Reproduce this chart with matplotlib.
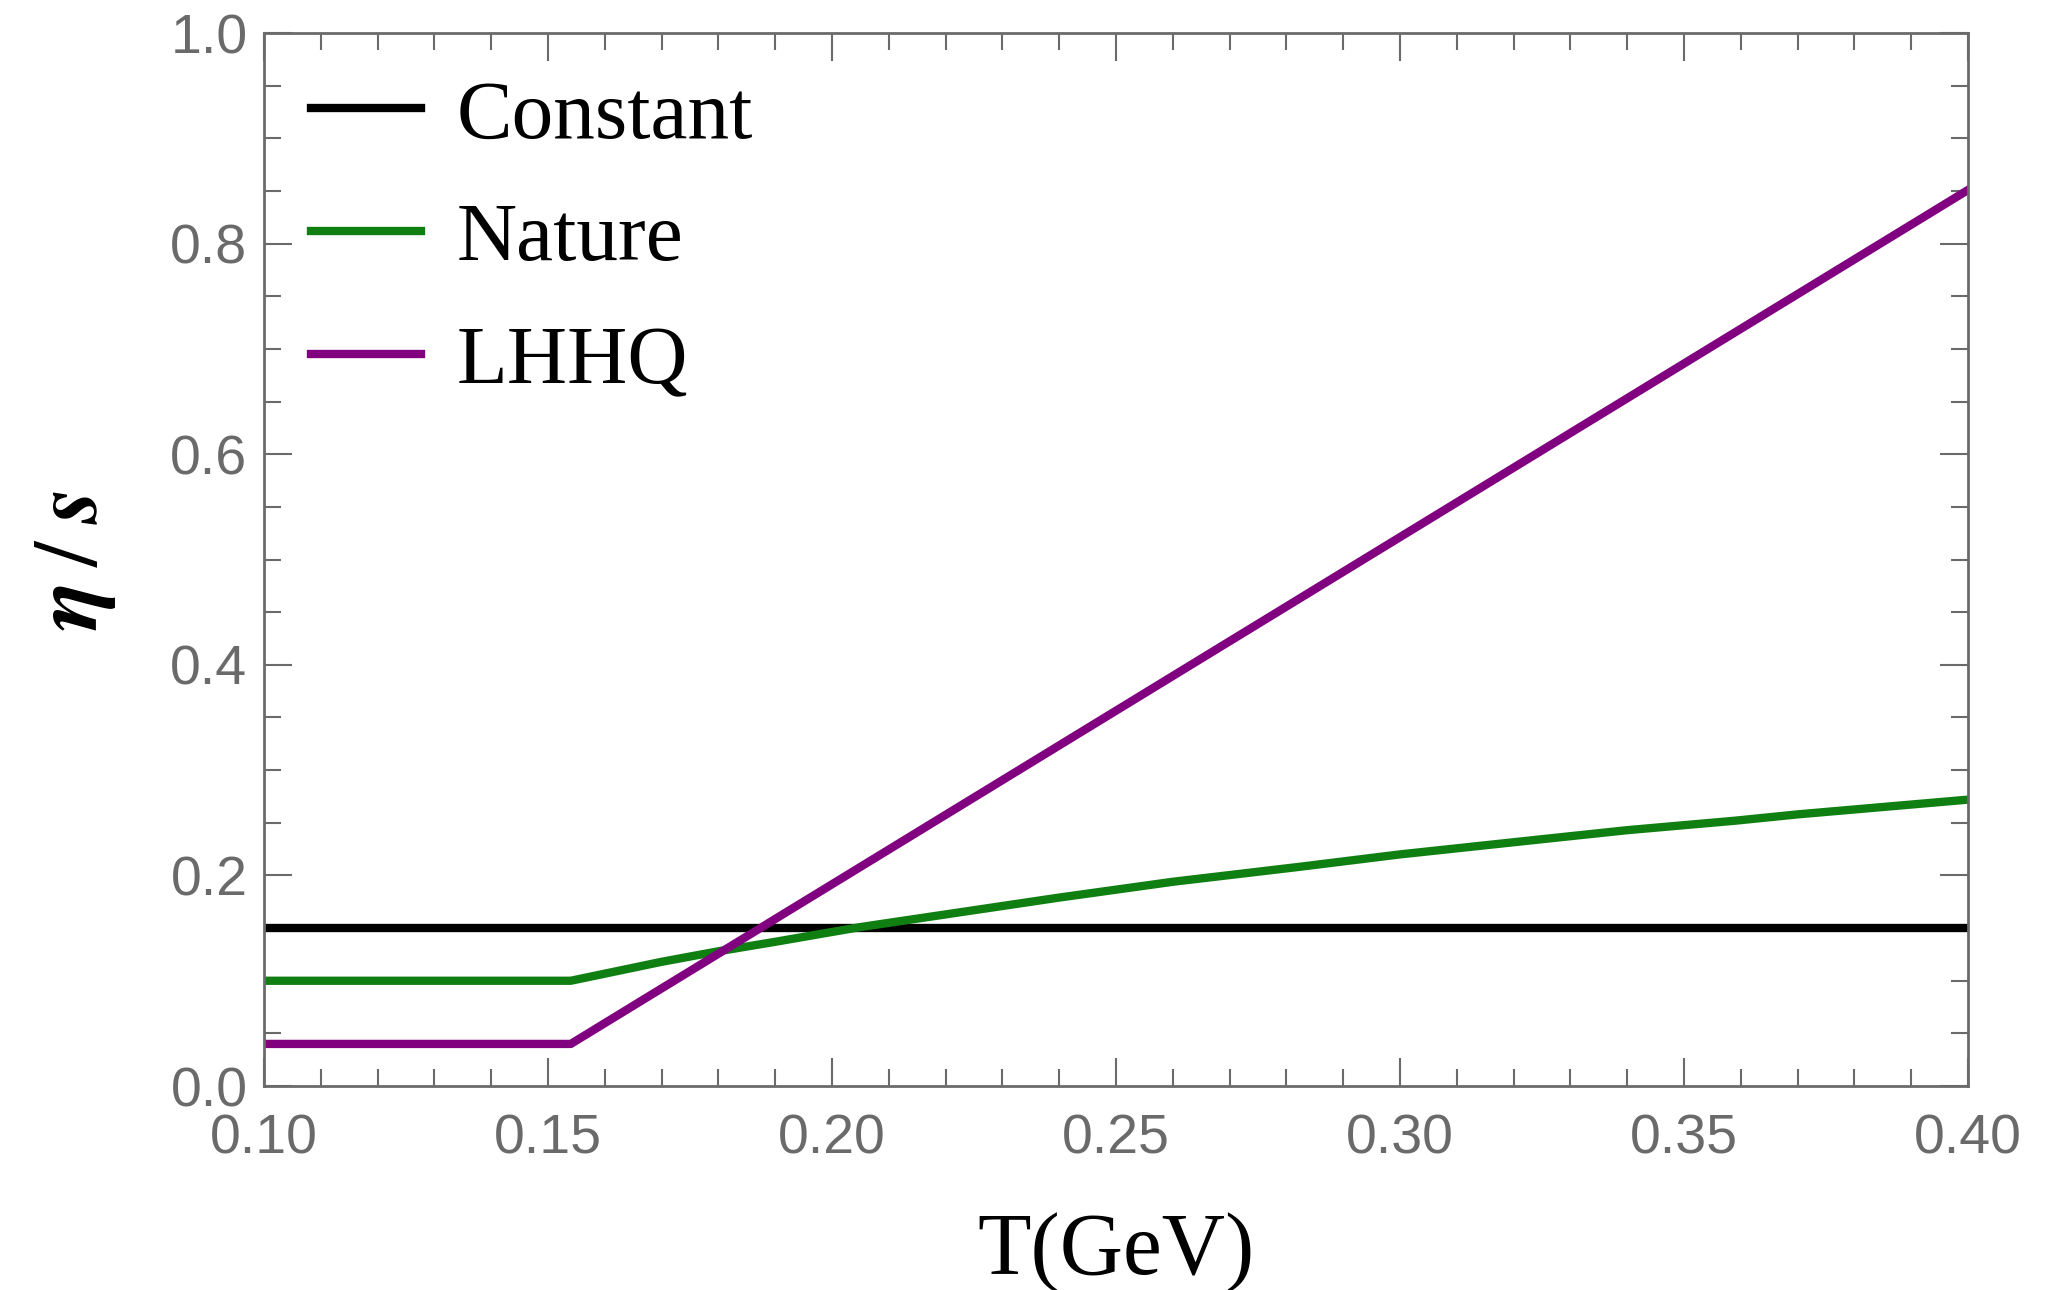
import numpy as np
import matplotlib.pyplot as plt
from matplotlib.ticker import MultipleLocator

# eta/s parametrisations vs temperature
T_const = [0.10, 0.40]
eta_const = [0.15, 0.15]

T_nature = [0.10, 0.154, 0.17, 0.18, 0.19, 0.205, 0.22, 0.24, 0.26,
            0.282, 0.30, 0.326, 0.34, 0.359, 0.37, 0.40]
eta_nature = [0.10, 0.10, 0.118, 0.128, 0.137, 0.151, 0.163, 0.179, 0.194,
              0.208, 0.220, 0.235, 0.243, 0.252, 0.258, 0.272]

T_lhhq = [0.10, 0.154, 0.40]
eta_lhhq = [0.04, 0.04, 0.851]

grey = '#6a6a6a'
plt.rcParams['mathtext.fontset'] = 'stix'

fig = plt.figure(figsize=(20.55, 12.9), dpi=100)
ax = fig.add_axes([0.1285, 0.1581, 0.8292, 0.8163])

ax.plot(T_const, eta_const, color='black', lw=6, label='Constant')
ax.plot(T_nature, eta_nature, color='#107f12', lw=6, label='Nature')
ax.plot(T_lhhq, eta_lhhq, color='#800080', lw=6, label='LHHQ')

ax.set_xlim(0.10, 0.40)
ax.set_ylim(0.0, 1.0)
ax.xaxis.set_major_locator(MultipleLocator(0.05))
ax.xaxis.set_minor_locator(MultipleLocator(0.01))
ax.yaxis.set_major_locator(MultipleLocator(0.2))
ax.yaxis.set_minor_locator(MultipleLocator(0.05))
ax.xaxis.set_major_formatter(plt.FuncFormatter(lambda v, p: '%.2f' % v))
ax.yaxis.set_major_formatter(plt.FuncFormatter(lambda v, p: '%.1f' % v))

ax.tick_params(which='both', direction='in', top=True, right=True,
               color=grey, labelcolor=grey, labelsize=40, width=1.5)
ax.tick_params(which='major', length=20, pad=12)
ax.tick_params(axis='x', which='major', pad=20)
ax.tick_params(which='minor', length=12)
for lab in ax.get_xticklabels() + ax.get_yticklabels():
    lab.set_family('Liberation Sans')
for sp in ax.spines.values():
    sp.set_color(grey)
    sp.set_linewidth(2)

ax.set_xlabel('T(GeV)', family='Liberation Serif', fontsize=63)
ax.xaxis.set_label_coords(0.5, -0.120)
ax.set_ylabel(r'$\boldsymbol{\eta}\;/\;\boldsymbol{s}$', fontsize=66)
ax.yaxis.set_label_coords(-0.086, 0.5)

leg = ax.legend(loc='upper left', frameon=False, prop={'family': 'Liberation Serif', 'size': 60},
                handlelength=1.32, handletextpad=0.43, labelspacing=0.56,
                borderaxespad=0.0, bbox_to_anchor=(0.008, 0.988))

fig.savefig('out.png')
